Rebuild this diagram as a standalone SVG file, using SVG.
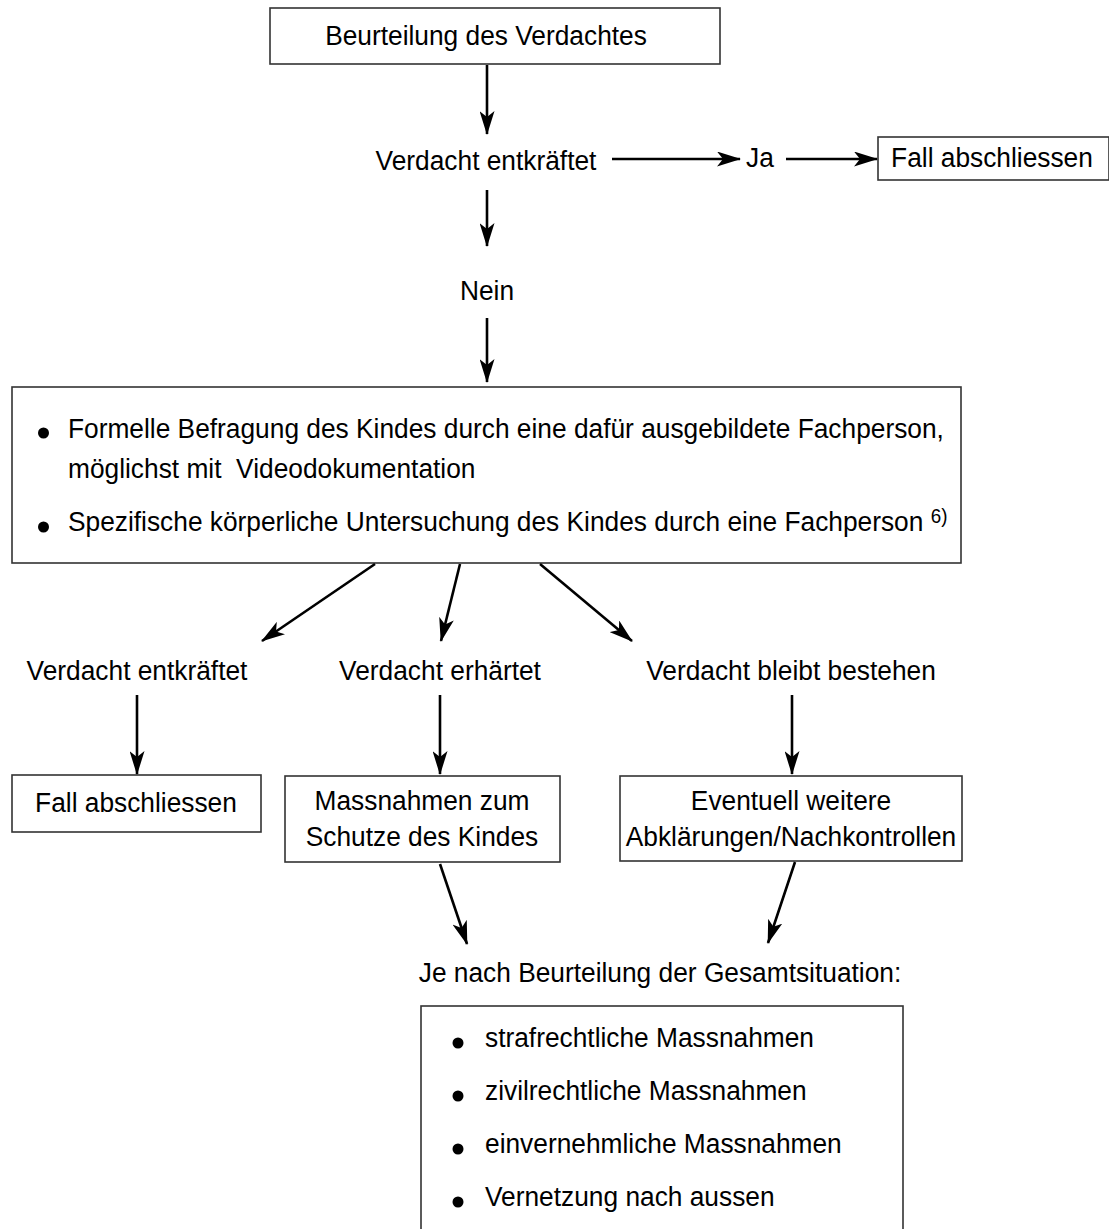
<svg xmlns="http://www.w3.org/2000/svg" width="1109" height="1229" viewBox="0 0 1109 1229">
<style>
text{font-family:"Liberation Sans",Arial,sans-serif;font-size:28px;fill:#000}
.c{text-anchor:middle}
.sup{font-size:20px}
.box{fill:#fff;stroke:#333;stroke-width:1.6}
.con line{stroke:#000;stroke-width:2.6;marker-end:url(#ah)}
.dot{fill:#000}
</style>
<defs>
<marker id="ah" viewBox="0 0 24 15" refX="23" refY="7.5" markerWidth="24" markerHeight="15" markerUnits="userSpaceOnUse" orient="auto">
<path d="M0,0 L24,7.5 L0,15 L6,7.5 z" fill="#000"/>
</marker>
</defs>
<rect width="1109" height="1229" fill="#fff"/>

<g id="n-beurteilung">
<rect class="box" x="270" y="8" width="450" height="56"/>
<g transform="translate(486,45) scale(0.94,1)"><text class="c">Beurteilung des Verdachtes</text></g>
</g>

<g id="n-verdacht1">
<g transform="translate(486,170) scale(0.94,1)"><text class="c">Verdacht entkräftet</text></g>
</g>

<g id="n-ja">
<g transform="translate(760,167) scale(0.94,1)"><text class="c">Ja</text></g>
</g>

<g id="n-fall1">
<rect class="box" x="878" y="137" width="231" height="43"/>
<g transform="translate(992,167) scale(0.94,1)"><text class="c">Fall abschliessen</text></g>
</g>

<g id="n-nein">
<g transform="translate(487,300) scale(0.94,1)"><text class="c">Nein</text></g>
</g>

<g id="n-befragung">
<rect class="box" x="12" y="387" width="949" height="176"/>
<circle class="dot" cx="43.5" cy="433" r="5.5"/>
<g transform="translate(68,438) scale(0.94,1)"><text>Formelle Befragung des Kindes durch eine dafür ausgebildete Fachperson,</text></g>
<g transform="translate(68,478) scale(0.94,1)"><text xml:space="preserve">möglichst mit  Videodokumentation</text></g>
<circle class="dot" cx="43.5" cy="527" r="5.5"/>
<g transform="translate(68,531) scale(0.94,1)"><text xml:space="preserve">Spezifische körperliche Untersuchung des Kindes durch eine Fachperson <tspan class="sup" dy="-8">6)</tspan></text></g>
</g>

<g id="n-entkraeftet2">
<g transform="translate(137,680) scale(0.94,1)"><text class="c">Verdacht entkräftet</text></g>
</g>
<g id="n-erhaertet">
<g transform="translate(440,680) scale(0.94,1)"><text class="c">Verdacht erhärtet</text></g>
</g>
<g id="n-bleibt">
<g transform="translate(791,680) scale(0.94,1)"><text class="c">Verdacht bleibt bestehen</text></g>
</g>

<g id="n-fall2">
<rect class="box" x="12" y="775" width="249" height="57"/>
<g transform="translate(136,812) scale(0.94,1)"><text class="c">Fall abschliessen</text></g>
</g>

<g id="n-massnahmen">
<rect class="box" x="285" y="776" width="275" height="86"/>
<g transform="translate(422,810) scale(0.94,1)"><text class="c">Massnahmen zum</text></g>
<g transform="translate(422,846) scale(0.94,1)"><text class="c">Schutze des Kindes</text></g>
</g>

<g id="n-eventuell">
<rect class="box" x="620" y="776" width="342" height="85"/>
<g transform="translate(791,810) scale(0.94,1)"><text class="c">Eventuell weitere</text></g>
<g transform="translate(791,846) scale(0.94,1)"><text class="c">Abklärungen/Nachkontrollen</text></g>
</g>

<g id="n-gesamt">
<g transform="translate(660,982) scale(0.94,1)"><text class="c">Je nach Beurteilung der Gesamtsituation:</text></g>
</g>

<g id="n-massnahmenliste">
<rect class="box" x="421" y="1006" width="482" height="240"/>
<circle class="dot" cx="458" cy="1043" r="5.5"/>
<g transform="translate(485,1047) scale(0.94,1)"><text>strafrechtliche Massnahmen</text></g>
<circle class="dot" cx="458" cy="1096" r="5.5"/>
<g transform="translate(485,1100) scale(0.94,1)"><text>zivilrechtliche Massnahmen</text></g>
<circle class="dot" cx="458" cy="1149" r="5.5"/>
<g transform="translate(485,1153) scale(0.94,1)"><text>einvernehmliche Massnahmen</text></g>
<circle class="dot" cx="458" cy="1202" r="5.5"/>
<g transform="translate(485,1206) scale(0.94,1)"><text>Vernetzung nach aussen</text></g>
</g>

<g id="connectors" class="con">
<line x1="487" y1="65" x2="487" y2="134"/>
<line x1="612" y1="159" x2="740" y2="159"/>
<line x1="786" y1="159" x2="877" y2="159"/>
<line x1="487" y1="190" x2="487" y2="246"/>
<line x1="487" y1="318" x2="487" y2="382"/>
<line x1="375" y1="564" x2="262" y2="641"/>
<line x1="460" y1="564" x2="441" y2="641"/>
<line x1="540" y1="564" x2="632" y2="641"/>
<line x1="137" y1="695" x2="137" y2="774"/>
<line x1="440" y1="695" x2="440" y2="774"/>
<line x1="792" y1="695" x2="792" y2="774"/>
<line x1="440" y1="864" x2="467" y2="944"/>
<line x1="795" y1="862" x2="768" y2="943"/>
</g>
</svg>
